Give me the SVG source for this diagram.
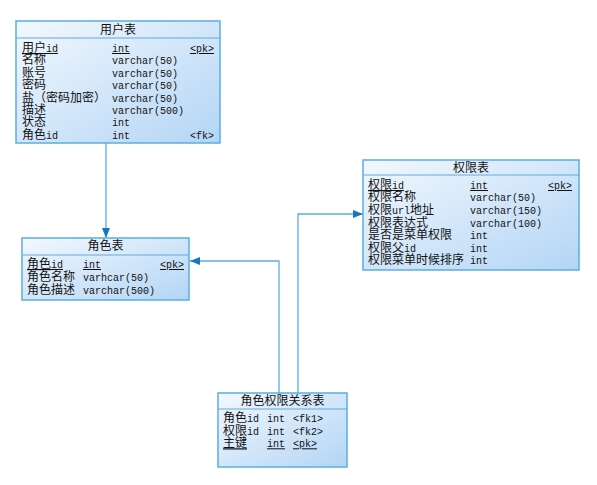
<svg xmlns="http://www.w3.org/2000/svg" width="597" height="485" viewBox="0 0 597 485">
<defs>
<linearGradient id="g" x1="0" y1="0" x2="1" y2="1">
<stop offset="0" stop-color="#f3f8fe"/>
<stop offset="1" stop-color="#b3d5f5"/>
</linearGradient>
<marker id="arr" viewBox="0 0 10 8" refX="10" refY="4" markerWidth="10" markerHeight="8" markerUnits="userSpaceOnUse" orient="auto">
<path d="M0,0 L10,4 L0,8 Z" fill="#1477c6"/>
</marker>
<style>
.box{fill:url(#g);stroke:#5aaee0;stroke-width:1.5}
.sep{stroke:#5aaee0;stroke-width:1.2}
text{font-family:"Liberation Mono","Noto Sans CJK SC",monospace;font-size:10px;fill:#111}
.t{font-family:"Noto Sans CJK SC","Liberation Sans",sans-serif;font-size:12px;text-anchor:middle}
.c{font-family:"Noto Sans CJK SC",sans-serif;font-size:12px}
.u{text-decoration:underline}
.con{fill:none;stroke:#5aaee0;stroke-width:1.3}
</style>
</defs>
<rect width="597" height="485" fill="#fff"/>
<g id="connectors">
<path class="con" d="M106,143 V238" marker-end="url(#arr)"/>
<path class="con" d="M279,393 V261 H190" marker-end="url(#arr)"/>
<path class="con" d="M298,393 V214 H363" marker-end="url(#arr)"/>
</g>
<g id="user">
<rect class="box" x="16" y="21" width="204" height="122"/>
<line class="sep" x1="16" y1="38" x2="220" y2="38"/>
<text class="t" x="118" y="34">用户表</text>
<text x="22" y="52" class="u"><tspan class="c">用户</tspan>id</text>
<text x="112" y="52" class="u">int</text>
<text x="190" y="52" class="u">&lt;pk&gt;</text>
<text x="22" y="64.4" class="c">名称</text><text x="112" y="64.4">varchar(50)</text>
<text x="22" y="76.8" class="c">账号</text><text x="112" y="76.8">varchar(50)</text>
<text x="22" y="89.2" class="c">密码</text><text x="112" y="89.2">varchar(50)</text>
<text x="22" y="101.6" class="c">盐（密码加密）</text><text x="112" y="101.6">varchar(50)</text>
<text x="22" y="114" class="c">描述</text><text x="112" y="114">varchar(500)</text>
<text x="22" y="126.4" class="c">状态</text><text x="112" y="126.4">int</text>
<text x="22" y="138.8"><tspan class="c">角色</tspan>id</text><text x="112" y="138.8">int</text><text x="190" y="138.8">&lt;fk&gt;</text>
</g>
<g id="role">
<rect class="box" x="22" y="238" width="167" height="62"/>
<line class="sep" x1="22" y1="255" x2="189" y2="255"/>
<text class="t" x="105.5" y="250">角色表</text>
<text x="27" y="268" class="u"><tspan class="c">角色</tspan>id</text>
<text x="83" y="268" class="u">int</text>
<text x="160" y="268" class="u">&lt;pk&gt;</text>
<text x="27" y="281" class="c">角色名称</text><text x="83" y="281">varhcar(50)</text>
<text x="27" y="294" class="c">角色描述</text><text x="83" y="294">varchar(500)</text>
</g>
<g id="perm">
<rect class="box" x="363" y="160" width="216" height="110"/>
<line class="sep" x1="363" y1="175" x2="579" y2="175"/>
<text class="t" x="471" y="171.5">权限表</text>
<text x="368" y="189" class="u"><tspan class="c">权限</tspan>id</text>
<text x="470" y="189" class="u">int</text>
<text x="548" y="189" class="u">&lt;pk&gt;</text>
<text x="368" y="201.3" class="c">权限名称</text><text x="470" y="201.3">varchar(50)</text>
<text x="368" y="213.9"><tspan class="c">权限</tspan>url<tspan class="c">地址</tspan></text><text x="470" y="213.9">varchar(150)</text>
<text x="368" y="226.5" class="c">权限表达式</text><text x="470" y="226.5">varchar(100)</text>
<text x="368" y="239.1" class="c">是否是菜单权限</text><text x="470" y="239.1">int</text>
<text x="368" y="251.7"><tspan class="c">权限父</tspan>id</text><text x="470" y="251.7">int</text>
<text x="368" y="264.3" class="c">权限菜单时候排序</text><text x="470" y="264.3">int</text>
</g>
<g id="relation">
<rect class="box" x="218" y="393" width="129" height="74"/>
<line class="sep" x1="218" y1="409" x2="347" y2="409"/>
<text class="t" x="282.5" y="405">角色权限关系表</text>
<text x="223" y="422.3"><tspan class="c">角色</tspan>id</text><text x="267" y="422.3">int</text><text x="293" y="422.3">&lt;fk1&gt;</text>
<text x="223" y="434.8"><tspan class="c">权限</tspan>id</text><text x="267" y="434.8">int</text><text x="293" y="434.8">&lt;fk2&gt;</text>
<text x="223" y="447.3" class="c u">主键</text><text x="267" y="447.3" class="u">int</text><text x="293" y="447.3" class="u">&lt;pk&gt;</text>
</g>
</svg>
